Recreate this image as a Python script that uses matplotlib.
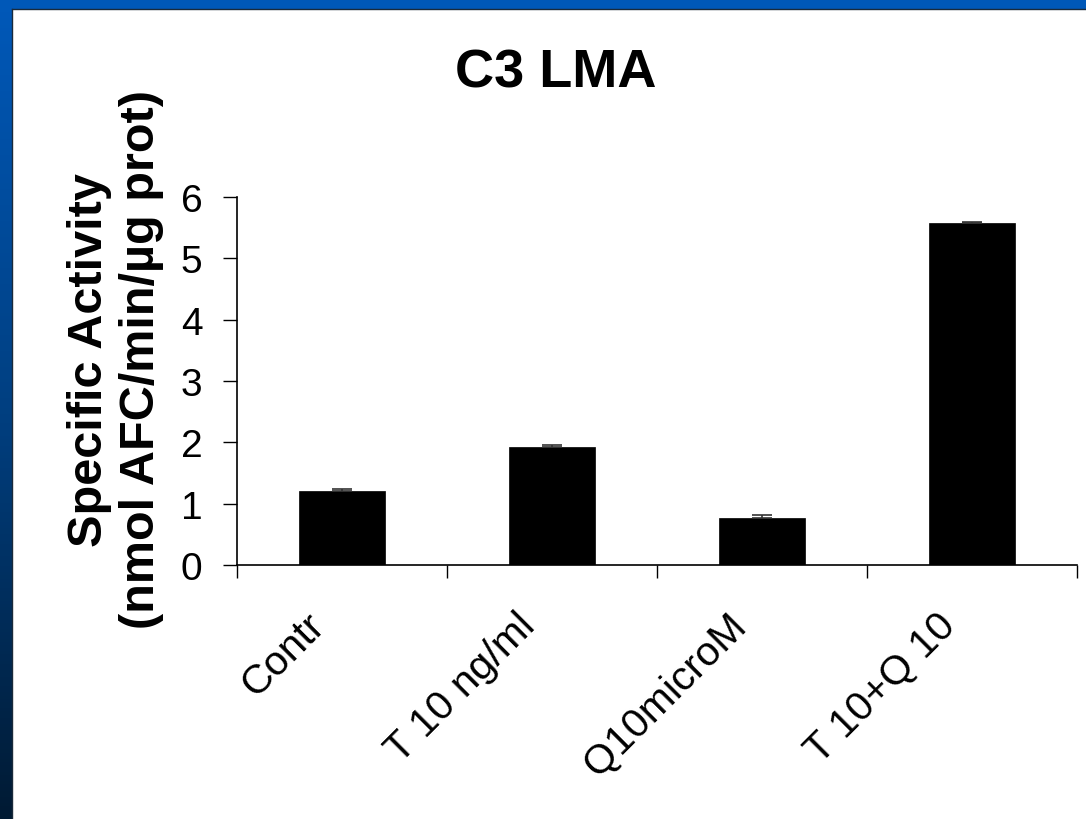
import numpy as np
import matplotlib.pyplot as plt
from matplotlib.colors import LinearSegmentedColormap
from matplotlib.patches import Rectangle
from matplotlib.transforms import ScaledTranslation

plt.rcParams['font.family'] = ['Liberation Sans', 'DejaVu Sans']

# data
categories = ['Contr', 'T 10 ng/ml', 'Q10microM', 'T 10+Q 10']
activity = [1.20, 1.92, 0.77, 5.58]
err_up = [0.04, 0.04, 0.04, 0.01]
yticks = [0, 1, 2, 3, 4, 5, 6]

W, H = 1086, 820
fig = plt.figure(figsize=(W / 100, H / 100), dpi=100)
fig.patch.set_facecolor('white')

# slide border: solid blue band on top, blue-to-navy gradient on the left
fig.patches.append(Rectangle((0, 1 - 10 / H), 1, 10 / H, transform=fig.transFigure,
                             facecolor='#0058b8', edgecolor='none', zorder=0))
bax = fig.add_axes([0, 0, 12 / W, 1 - 10 / H])
grad = np.linspace(0, 1, 256).reshape(-1, 1)
cmap = LinearSegmentedColormap.from_list('side', ['#0058b8', '#003f80', '#001a33'])
bax.imshow(grad, aspect='auto', cmap=cmap, extent=[0, 1, 0, 1])
bax.set_axis_off()
# thin dark edge of the white panel
fig.add_artist(plt.Line2D([12 / W, 12 / W], [0, 1 - 10 / H], transform=fig.transFigure,
                          color='#1a2a3a', lw=1))
fig.add_artist(plt.Line2D([12 / W, 1], [1 - 10 / H, 1 - 10 / H], transform=fig.transFigure,
                          color='#1a2a3a', lw=1))

ax = fig.add_axes([237 / W, 1 - 566 / H, (1077 - 237) / W, (566 - 198) / H])
x = np.arange(len(categories))
ax.bar(x, activity, width=0.41, color='black', edgecolor='black', linewidth=0.5, zorder=2)
ax.errorbar(x, activity, yerr=[np.zeros(len(err_up)), err_up], fmt='none',
            ecolor='#333333', elinewidth=1.2, capsize=7, capthick=1.2, zorder=3)

ax.set_xlim(-0.5, 3.5)
ax.set_ylim(0, 6)
ax.set_yticks(yticks)
ax.set_yticklabels([str(t) for t in yticks], fontsize=28)
ax.tick_params(axis='y', direction='out', length=10, width=1, pad=15)

ax.set_xticks(x)
ax.set_xticks(np.arange(-0.5, 4, 1), minor=True)
ax.tick_params(axis='x', which='major', length=0, pad=29)
ax.tick_params(axis='x', which='minor', direction='out', length=9.5, width=1)
ax.set_xticklabels(categories, fontsize=29.5, rotation=45, ha='right', va='top',
                   rotation_mode='anchor')
for lab in ax.get_xticklabels():
    lab.set_transform(lab.get_transform() + ScaledTranslation(-0.36, 0, fig.dpi_scale_trans))

for s in ['top', 'right']:
    ax.spines[s].set_visible(False)
for s in ['left', 'bottom']:
    ax.spines[s].set_linewidth(1.2)
ax.set_facecolor('none')

fig.text(556 / W, 1 - 74 / H, 'C3 LMA', fontsize=39, fontweight='bold',
         ha='center', va='center')
fig.text(116 / W, 1 - 360 / H, 'Specific Activity\n(nmol AFC/min/\u00b5g prot)',
         fontsize=35, fontweight='bold', rotation=90, ha='center', va='center',
         multialignment='center', linespacing=1.2)

fig.savefig('out.png', dpi=100)
